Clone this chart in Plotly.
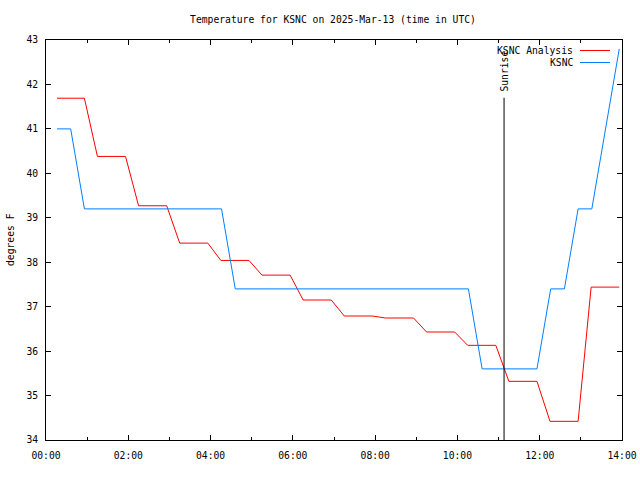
import plotly.graph_objects as go

DAY = "2025-03-13"

# KSNC Analysis (red)
analysis_times = ["00:16", "00:56", "01:15", "01:56", "02:15", "02:56", "03:15", "03:56",
                  "04:15", "04:56", "05:15", "05:56", "06:15", "06:56", "07:15", "07:56",
                  "08:15", "08:56", "09:15", "09:56", "10:15", "10:56", "11:15", "11:56",
                  "12:15", "12:56", "13:15", "13:56"]
analysis_vals = [41.69, 41.69, 40.38, 40.38, 39.27, 39.27, 38.43, 38.43,
                 38.04, 38.04, 37.71, 37.71, 37.15, 37.15, 36.79, 36.79,
                 36.745, 36.745, 36.43, 36.43, 36.13, 36.13, 35.32, 35.32,
                 34.42, 34.42, 37.44, 37.44]

# KSNC observations (blue)
obs_times = ["00:16", "00:36", "00:56", "04:16", "04:36", "10:16", "10:36", "11:56",
             "12:16", "12:36", "12:56", "13:16", "13:56"]
obs_vals = [41.0, 41.0, 39.2, 39.2, 37.4, 37.4, 35.6, 35.6,
            37.4, 37.4, 39.2, 39.2, 42.8]

SUNRISE = "11:08"
SUNRISE_TOP = 41.7

y_ticks = [34, 35, 36, 37, 38, 39, 40, 41, 42, 43]

FONT = "DejaVu Sans Mono"
FS = 9.7


def ts(hm):
    return f"{DAY} {hm}"


fig = go.Figure()
fig.add_trace(go.Scatter(x=[ts(t) for t in analysis_times], y=analysis_vals, mode="lines",
                         line=dict(color="#ff0000", width=1), name="KSNC Analysis",
                         showlegend=False))
fig.add_trace(go.Scatter(x=[ts(t) for t in obs_times], y=obs_vals, mode="lines",
                         line=dict(color="#0080ff", width=1), name="KSNC",
                         showlegend=False))

# sunrise line
fig.add_shape(type="line", xref="x", yref="y", x0=ts(SUNRISE), x1=ts(SUNRISE),
              y0=34, y1=SUNRISE_TOP, line=dict(color="black", width=1))
fig.add_annotation(x=ts(SUNRISE), y=1, xref="x", yref="paper", yshift=-9,
                   text="Sunrise", textangle=-90, showarrow=False,
                   xanchor="center", yanchor="top",
                   font=dict(family=FONT, size=FS, color="black"))

# legend (text left of sample line, gnuplot style)
leg = [("KSNC Analysis", "#ff0000", 50.5), ("KSNC", "#0080ff", 62.5)]
for label, col, py in leg:
    yp = (440 - py) / 400
    fig.add_annotation(x=(574.5 - 46) / 576, y=yp, xref="paper", yref="paper",
                       text=label, showarrow=False, xanchor="right", yanchor="middle",
                       font=dict(family=FONT, size=FS, color="black"))
    fig.add_shape(type="line", xref="paper", yref="paper",
                  x0=(580 - 46) / 576, x1=(610 - 46) / 576, y0=yp, y1=yp,
                  line=dict(color=col, width=1))

# y axis title
fig.add_annotation(x=(10 - 46) / 576, y=0.5, xref="paper", yref="paper",
                   text="degrees F", textangle=-90, showarrow=False,
                   xanchor="center", yanchor="middle",
                   font=dict(family=FONT, size=FS, color="black"))

fig.update_layout(
    width=640, height=480,
    margin=dict(l=46, r=18, t=40, b=40, autoexpand=False),
    paper_bgcolor="white", plot_bgcolor="white",
    font=dict(family=FONT, size=FS, color="black"),
    title=dict(text="Temperature for KSNC on 2025-Mar-13 (time in UTC)",
               x=(333 - 0) / 640, xanchor="center", y=1 - 20 / 480, yanchor="middle",
               font=dict(family=FONT, size=FS, color="black")),
    showlegend=False,
)
fig.update_xaxes(
    type="date", range=[ts("00:00"), ts("14:00")],
    tickformat="%H:%M", dtick=7200000, tick0=ts("00:00"),
    ticks="inside", ticklen=5, tickcolor="black", tickwidth=1,
    showgrid=False, zeroline=False, automargin=False,
    showline=True, linecolor="black", linewidth=1, mirror="allticks",
    ticklabelstandoff=6,
    minor=dict(dtick=3600000, tick0=ts("00:00"), ticks="inside", ticklen=3,
               tickcolor="black", showgrid=False),
)
fig.update_yaxes(
    range=[34, 43], tickvals=y_ticks,
    ticks="inside", ticklen=5, tickcolor="black", tickwidth=1,
    showgrid=False, zeroline=False, automargin=False,
    showline=True, linecolor="black", linewidth=1, mirror="allticks",
    ticklabelstandoff=5,
)

fig.write_html("out.html")
